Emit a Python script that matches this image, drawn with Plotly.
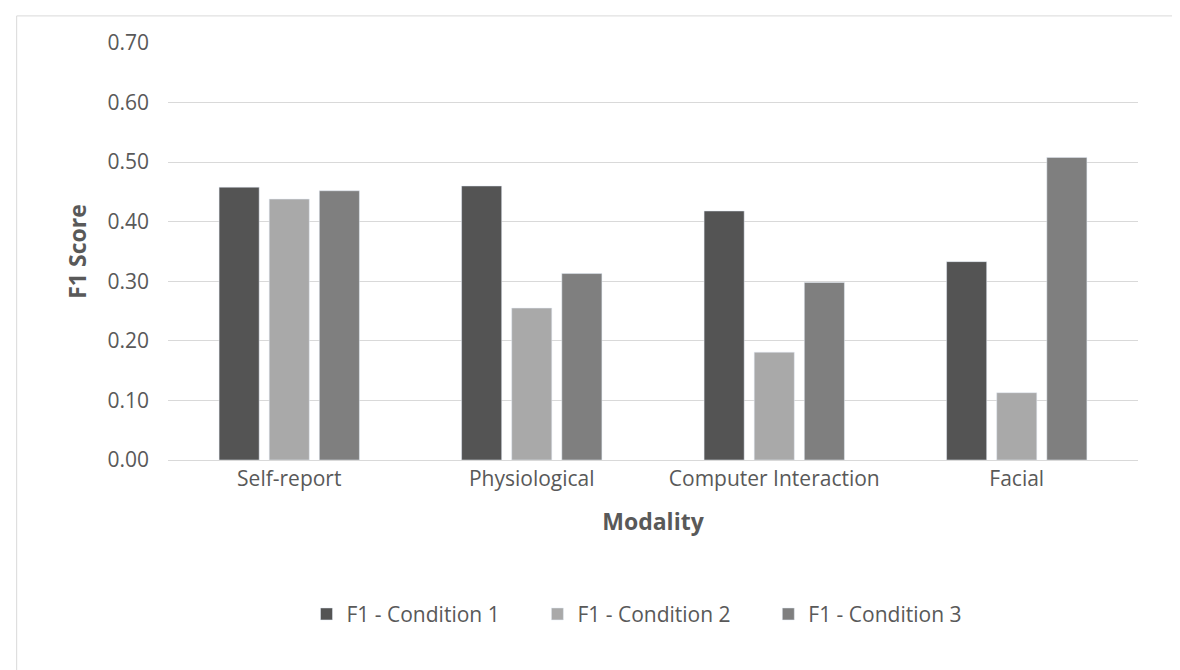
import plotly.graph_objects as go

modalities = ["Self-report", "Physiological", "Computer Interaction", "Facial"]
cond1 = [0.458, 0.460, 0.418, 0.333]
cond2 = [0.438, 0.255, 0.181, 0.113]
cond3 = [0.452, 0.313, 0.298, 0.508]
series_names = ["F1 - Condition 1", "F1 - Condition 2", "F1 - Condition 3"]
colors = ["#545454", "#a9a9a9", "#7f7f7f"]

fig = go.Figure()
for name, vals, c in zip(series_names, [cond1, cond2, cond3], colors):
    fig.add_trace(go.Bar(x=modalities, y=vals, name=name + "      ", marker_color=c))

fig.update_layout(
    width=1180, height=670,
    barmode="group", bargap=0.38, bargroupgap=0.2,
    plot_bgcolor="white", paper_bgcolor="white",
    font=dict(family="Open Sans, Liberation Sans, sans-serif", size=21, color="#595959"),
    margin=dict(l=160, r=50, t=35, b=218),
    legend=dict(orientation="h", x=0.5, xanchor="center", y=-0.37, yanchor="middle",
                font=dict(size=21, color="#595959"), itemwidth=30),
    shapes=[dict(type="rect", xref="paper", yref="paper", x0=-0.156, x1=1.042, y0=-0.51, y1=1.065,
                 line=dict(color="#d9d9d9", width=1))],
)
fig.update_yaxes(range=[0, 0.7], dtick=0.1, tickformat=".2f", gridcolor="#d9d9d9",
                 zeroline=False, showline=False, ticks="", ticklabelstandoff=18,
                 title=dict(text="<b>F1 Score</b>", font=dict(size=23, color="#595959"), standoff=14))
fig.update_xaxes(showline=True, linecolor="#d9d9d9", ticks="",
                 title=dict(text="<b>Modality</b>", font=dict(size=23, color="#595959"), standoff=22))

fig.write_html("out.html")
